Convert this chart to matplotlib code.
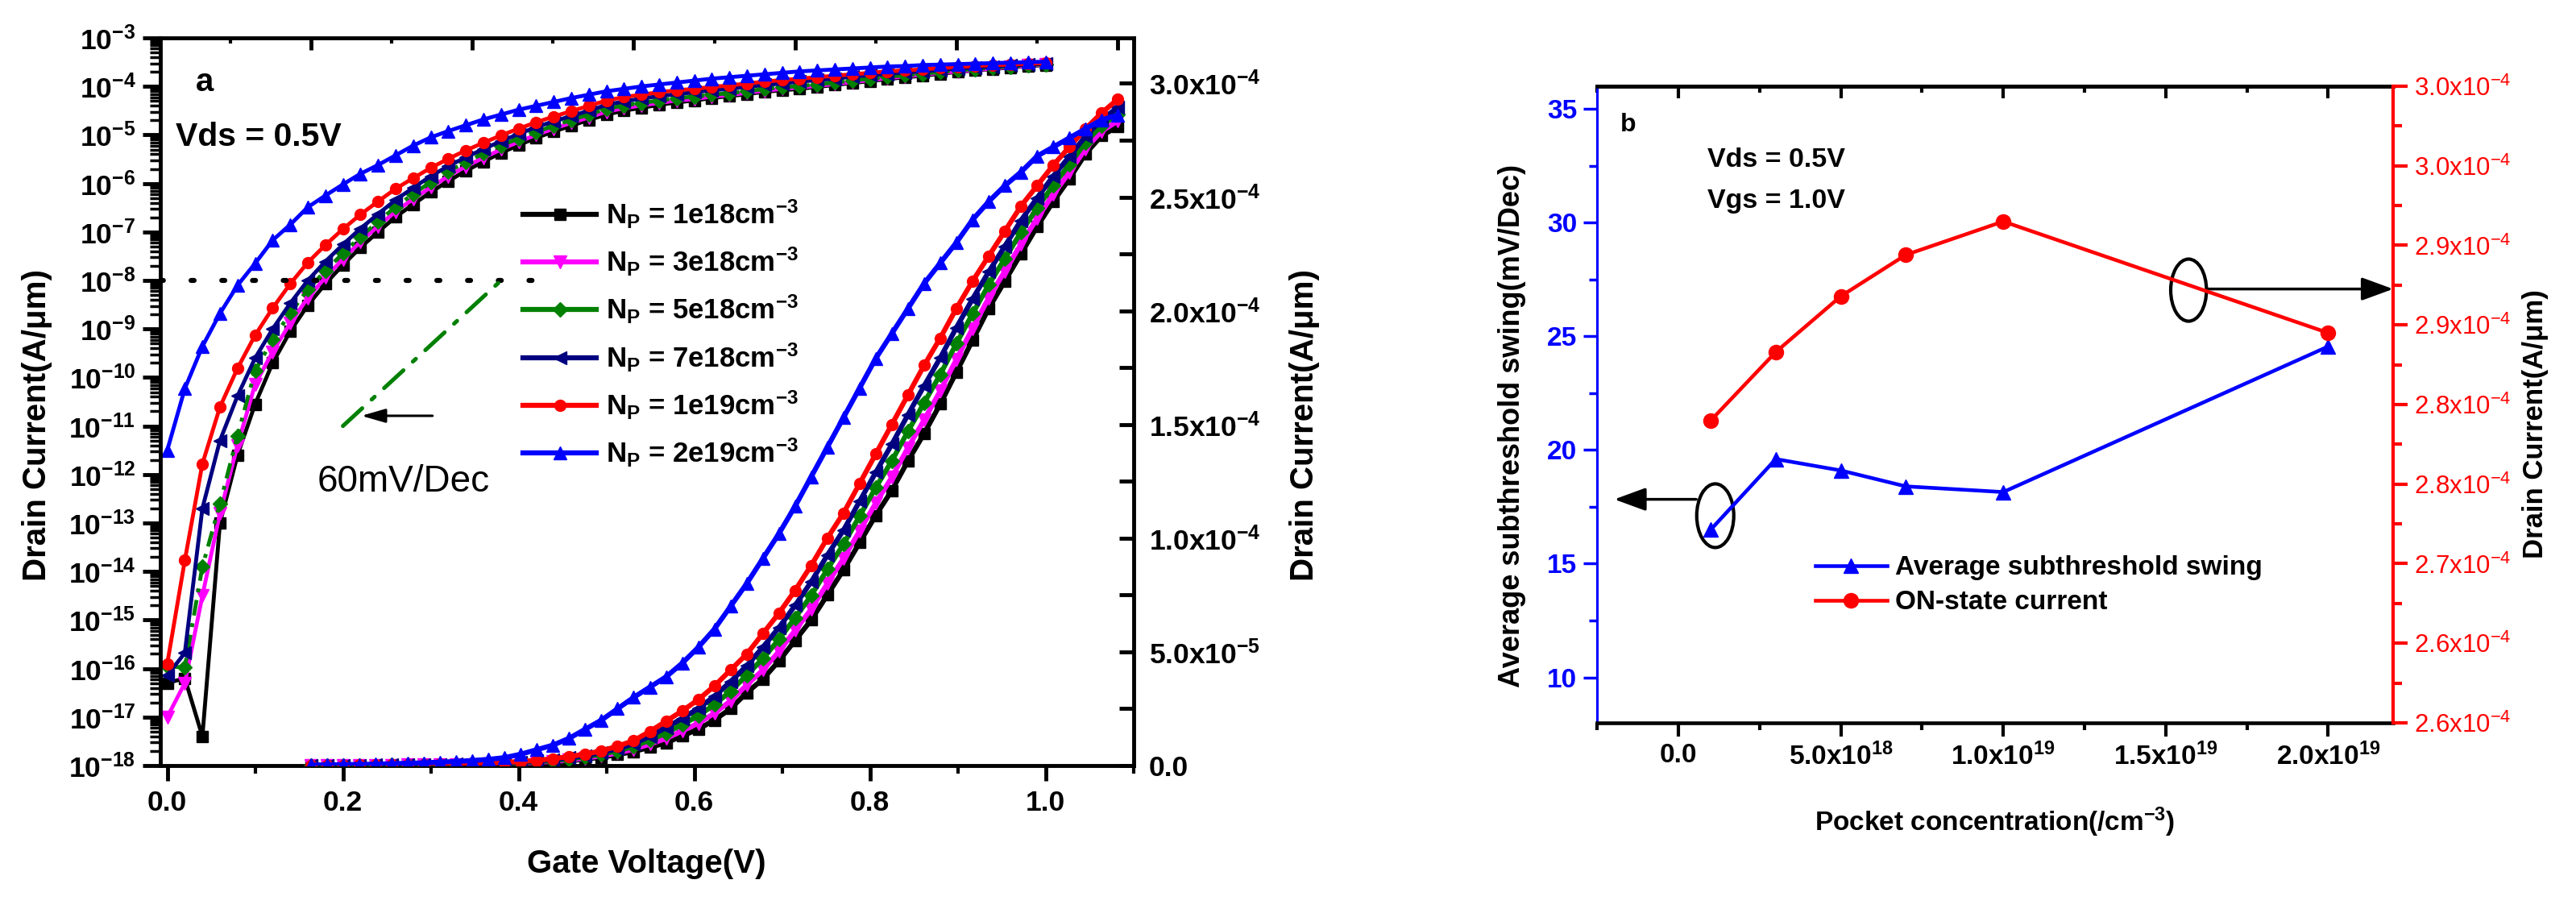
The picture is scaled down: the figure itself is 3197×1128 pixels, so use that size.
import numpy as np
import matplotlib
matplotlib.use('Agg')
import matplotlib.pyplot as plt
from matplotlib.patches import Ellipse
from matplotlib.ticker import (FixedLocator, MultipleLocator, LogLocator,
                               NullFormatter, FuncFormatter, FormatStrFormatter)

plt.rcParams.update({
    'font.family': ['Liberation Sans', 'DejaVu Sans'],
    'font.weight': 'bold',
    'axes.labelweight': 'bold',
    'mathtext.default': 'regular',
})

# ---------------- panel a data ----------------
# gate voltage sweep (0 .. 1.0 V, 20 mV step) -- markers every 0.02 V
vg = np.linspace(0.0, 1.0, 51)

# log10 of drain current (A/um), left (log) axis
logI_1e18 = [-16.30, -16.20, -17.40, -13.00, -11.60, -10.55, -9.70, -9.05, -8.51, -8.07,
             -7.68, -7.32, -7.00, -6.69, -6.43, -6.18, -5.95, -5.74, -5.55, -5.37,
             -5.21, -5.06, -4.93, -4.81, -4.69, -4.58, -4.50, -4.44, -4.38, -4.33,
             -4.29, -4.24, -4.20, -4.16, -4.11, -4.08, -4.05, -4.01, -3.97, -3.93,
             -3.89, -3.85, -3.81, -3.78, -3.74, -3.70, -3.67, -3.64, -3.61, -3.58, -3.56]
logI_3e18 = [-17.00, -16.30, -14.50, -12.80, -11.40, -10.14, -9.47, -8.88, -8.36, -7.94,
             -7.56, -7.20, -6.88, -6.58, -6.32, -6.08, -5.85, -5.65, -5.47, -5.30,
             -5.14, -5.00, -4.87, -4.75, -4.64, -4.52, -4.45, -4.39, -4.34, -4.29,
             -4.26, -4.21, -4.18, -4.13, -4.09, -4.05, -4.02, -3.99, -3.95, -3.91,
             -3.87, -3.83, -3.79, -3.76, -3.72, -3.69, -3.66, -3.63, -3.60, -3.57, -3.55]
logI_5e18 = [-15.95, -15.98, -13.90, -12.60, -11.20, -9.86, -9.22, -8.67, -8.19, -7.80,
             -7.44, -7.10, -6.79, -6.48, -6.22, -5.97, -5.75, -5.56, -5.38, -5.22,
             -5.07, -4.94, -4.81, -4.69, -4.58, -4.46, -4.39, -4.34, -4.29, -4.24,
             -4.21, -4.17, -4.14, -4.10, -4.05, -4.02, -3.99, -3.96, -3.92, -3.88,
             -3.84, -3.80, -3.77, -3.74, -3.70, -3.67, -3.64, -3.61, -3.59, -3.56, -3.54]
logI_7e18 = [-16.14, -15.68, -12.70, -11.30, -10.38, -9.60, -9.00, -8.47, -8.00, -7.61,
             -7.26, -6.93, -6.63, -6.34, -6.09, -5.85, -5.64, -5.46, -5.29, -5.13,
             -4.98, -4.84, -4.72, -4.61, -4.50, -4.38, -4.31, -4.25, -4.20, -4.16,
             -4.12, -4.08, -4.05, -4.01, -3.97, -3.94, -3.90, -3.87, -3.84, -3.80,
             -3.77, -3.74, -3.71, -3.69, -3.66, -3.63, -3.61, -3.59, -3.57, -3.55, -3.53]
logI_1e19 = [-15.90, -13.77, -11.78, -10.61, -9.81, -9.13, -8.57, -8.07, -7.63, -7.27,
             -6.94, -6.64, -6.37, -6.11, -5.89, -5.68, -5.49, -5.32, -5.16, -5.01,
             -4.87, -4.74, -4.62, -4.51, -4.40, -4.29, -4.22, -4.17, -4.12, -4.08,
             -4.05, -4.01, -3.98, -3.94, -3.90, -3.87, -3.84, -3.81, -3.78, -3.75,
             -3.72, -3.69, -3.67, -3.65, -3.62, -3.60, -3.58, -3.56, -3.55, -3.53, -3.52]
logI_2e19 = [-11.50, -10.23, -9.36, -8.68, -8.10, -7.65, -7.17, -6.85, -6.49, -6.25,
             -6.02, -5.80, -5.62, -5.42, -5.22, -5.05, -4.92, -4.80, -4.68, -4.58,
             -4.48, -4.40, -4.32, -4.24, -4.17, -4.10, -4.05, -4.00, -3.96, -3.92,
             -3.88, -3.84, -3.81, -3.78, -3.75, -3.72, -3.69, -3.67, -3.65, -3.63,
             -3.61, -3.59, -3.58, -3.56, -3.55, -3.54, -3.53, -3.52, -3.51, -3.50, -3.49]

# linear drain current (x1e-4 A/um), right axis (plotted on its own x layer)
lin_1e18 = [0.0005, 0.0006, 0.0008, 0.0010, 0.0012, 0.0015, 0.0018, 0.0022, 0.0027, 0.0033,
            0.004, 0.005, 0.007, 0.009, 0.012, 0.016, 0.021, 0.028, 0.037, 0.048,
            0.062, 0.080, 0.100, 0.130, 0.160, 0.200, 0.250, 0.320, 0.380, 0.460,
            0.550, 0.640, 0.750, 0.860, 0.980, 1.100, 1.210, 1.340, 1.460, 1.590,
            1.730, 1.870, 2.010, 2.130, 2.250, 2.370, 2.480, 2.580, 2.690, 2.770, 2.810]
lin_3e18 = [0.0006, 0.0007, 0.0009, 0.0011, 0.0014, 0.0017, 0.0021, 0.0026, 0.0031, 0.0038,
            0.005, 0.006, 0.008, 0.011, 0.014, 0.019, 0.025, 0.032, 0.043, 0.055,
            0.072, 0.094, 0.119, 0.152, 0.186, 0.230, 0.284, 0.354, 0.420, 0.502,
            0.594, 0.688, 0.800, 0.910, 1.032, 1.154, 1.268, 1.398, 1.520, 1.648,
            1.786, 1.922, 2.056, 2.174, 2.292, 2.406, 2.512, 2.608, 2.712, 2.790, 2.834]
lin_5e18 = [0.0007, 0.0008, 0.0010, 0.0013, 0.0016, 0.0020, 0.0024, 0.0030, 0.0036, 0.0044,
            0.006, 0.008, 0.010, 0.013, 0.017, 0.022, 0.030, 0.038, 0.050, 0.065,
            0.084, 0.112, 0.143, 0.180, 0.219, 0.268, 0.327, 0.397, 0.470, 0.555,
            0.649, 0.748, 0.863, 0.973, 1.097, 1.222, 1.340, 1.470, 1.595, 1.720,
            1.856, 1.987, 2.114, 2.229, 2.345, 2.451, 2.552, 2.643, 2.740, 2.815, 2.864]
lin_7e18 = [0.0008, 0.0009, 0.0012, 0.0015, 0.0019, 0.0024, 0.0030, 0.0037, 0.0045, 0.0055,
            0.0075, 0.009, 0.012, 0.015, 0.020, 0.026, 0.034, 0.043, 0.057, 0.074,
            0.096, 0.129, 0.167, 0.207, 0.251, 0.305, 0.369, 0.439, 0.520, 0.607,
            0.704, 0.808, 0.925, 1.035, 1.162, 1.289, 1.413, 1.543, 1.670, 1.793,
            1.926, 2.052, 2.171, 2.284, 2.397, 2.496, 2.592, 2.678, 2.767, 2.840, 2.894]
lin_1e19 = [0.0010, 0.0010, 0.0015, 0.0020, 0.0025, 0.0030, 0.0040, 0.0050, 0.0060, 0.0070,
            0.009, 0.011, 0.014, 0.018, 0.023, 0.030, 0.040, 0.050, 0.065, 0.085,
            0.110, 0.150, 0.195, 0.240, 0.290, 0.350, 0.420, 0.490, 0.580, 0.670,
            0.770, 0.880, 1.000, 1.110, 1.240, 1.370, 1.500, 1.630, 1.760, 1.880,
            2.010, 2.130, 2.240, 2.350, 2.460, 2.550, 2.640, 2.720, 2.800, 2.870, 2.930]
lin_2e19 = [0.002, 0.003, 0.004, 0.005, 0.006, 0.008, 0.010, 0.012, 0.015, 0.018,
            0.022, 0.027, 0.035, 0.050, 0.070, 0.090, 0.120, 0.160, 0.200, 0.250,
            0.300, 0.345, 0.390, 0.450, 0.520, 0.600, 0.700, 0.800, 0.910, 1.020,
            1.140, 1.270, 1.400, 1.530, 1.660, 1.790, 1.900, 2.010, 2.120, 2.210,
            2.300, 2.400, 2.480, 2.550, 2.610, 2.680, 2.720, 2.760, 2.800, 2.840, 2.860]

series_labels = ['N$_{P}$ = 1e18cm$^{-3}$', 'N$_{P}$ = 3e18cm$^{-3}$',
                 'N$_{P}$ = 5e18cm$^{-3}$', 'N$_{P}$ = 7e18cm$^{-3}$',
                 'N$_{P}$ = 1e19cm$^{-3}$', 'N$_{P}$ = 2e19cm$^{-3}$']
log_series = [logI_1e18, logI_3e18, logI_5e18, logI_7e18, logI_1e19, logI_2e19]
lin_series = [lin_1e18, lin_3e18, lin_5e18, lin_7e18, lin_1e19, lin_2e19]
colors = ['#000000', '#ff00ff', '#008000', '#000080', '#ff0000', '#0000ff']
markers = ['s', 'v', 'D', '<', 'o', '^']
msizes = [10, 11, 9, 11, 10, 11]

# reference lines of panel a
ref_dot_x = [-0.008, 0.43]
ref_dot_y = [1e-8, 1e-8]
slope60_x = [0.20, 0.38]
slope60_y = [1e-11, 1e-8]

left_right_ticks = [0.0, 0.5e-4, 1.0e-4, 1.5e-4, 2.0e-4, 2.5e-4, 3.0e-4]
left_right_text = ['0.0', '5.0x10$^{-5}$', '1.0x10$^{-4}$', '1.5x10$^{-4}$',
                   '2.0x10$^{-4}$', '2.5x10$^{-4}$', '3.0x10$^{-4}$']

# ---------------- panel b data ----------------
pocket_conc = [1e18, 3e18, 5e18, 7e18, 1e19, 2e19]
avg_ss = [16.5, 19.6, 19.1, 18.4, 18.15, 24.55]
on_current = [2.790e-4, 2.833e-4, 2.868e-4, 2.894e-4, 2.915e-4, 2.845e-4]

conc_ticks = [0.0, 5e18, 1e19, 1.5e19, 2e19]
conc_text = ['0.0', '5.0x10$^{18}$', '1.0x10$^{19}$', '1.5x10$^{19}$', '2.0x10$^{19}$']
ion_ticks = [2.60e-4, 2.65e-4, 2.70e-4, 2.75e-4, 2.80e-4, 2.85e-4, 2.90e-4, 2.95e-4, 3.00e-4]
ion_text = ['2.6x10$^{-4}$', '2.6x10$^{-4}$', '2.7x10$^{-4}$', '2.8x10$^{-4}$',
            '2.8x10$^{-4}$', '2.9x10$^{-4}$', '2.9x10$^{-4}$', '3.0x10$^{-4}$',
            '3.0x10$^{-4}$']

fig = plt.figure(figsize=(31.97, 11.28), dpi=100)

# ================= panel a =================
rect_a = [0.0622, 0.1578, 0.3778, 0.8005]
ax1 = fig.add_axes(rect_a, label='log')
ax2 = fig.add_axes(rect_a, label='lin', facecolor='none')

for i in range(6):
    ls = (0, (4, 2, 1, 2)) if i == 2 else '-'
    ax1.plot(vg, 10.0 ** np.array(log_series[i]), color=colors[i], marker=markers[i],
             ms=msizes[i], lw=3.5, ls=ls, mec=colors[i])

handles = []
for i in range(6):
    h, = ax2.plot(vg, np.array(lin_series[i]) * 1e-4, color=colors[i], marker=markers[i],
                  ms=msizes[i], lw=4.5, mec=colors[i])
    handles.append(h)

ax1.plot(ref_dot_x, ref_dot_y, color='k', lw=4.5, ls=(0, (0.6, 5.5)),
         dash_capstyle='round')
ax1.plot(slope60_x, slope60_y, color='#008000', lw=3.6, ls=(0, (6.5, 3.2, 1.0, 3.2)),
         dash_capstyle='round')
ax1.annotate('', xy=(0.221, 10 ** -10.79), xytext=(0.302, 10 ** -10.79),
             arrowprops=dict(arrowstyle='-|>,head_length=0.45,head_width=0.13',
                             color='k', lw=2.2, mutation_scale=40,
                             shrinkA=0, shrinkB=0))
ax1.text(0.269, 10 ** -12.15, '60mV/Dec', fontsize=33, fontweight='normal',
         ha='center', va='center')
ax1.text(0.032, 10 ** -3.91, 'a', fontsize=29, ha='left', va='center')
ax1.text(0.0095, 10 ** -5.04, 'Vds = 0.5V', fontsize=29.5, ha='left', va='center')

ax1.set_yscale('log')
ax1.set_xlim(-0.008, 1.10)
ax1.set_ylim(1e-18, 1e-3)
ax1.yaxis.set_major_locator(FixedLocator(10.0 ** np.arange(-18, -2)))
ax1.yaxis.set_major_formatter(FuncFormatter(lambda v, p: '10$^{%d}$' % round(np.log10(v))))
ax1.yaxis.set_minor_locator(LogLocator(base=10, subs=np.arange(2, 10), numticks=200))
ax1.yaxis.set_minor_formatter(NullFormatter())
ax1.xaxis.set_major_locator(MultipleLocator(0.2))
ax1.xaxis.set_minor_locator(MultipleLocator(0.1))
ax1.xaxis.set_major_formatter(FormatStrFormatter('%.1f'))
ax1.tick_params(axis='both', which='both', direction='out', top=False, right=False)
ax1.tick_params(axis='y', which='major', length=16, width=3.5, labelsize=25.5, pad=6)
ax1.tick_params(axis='y', which='minor', length=9.5, width=2.5)
ax1.tick_params(axis='x', which='major', length=13.5, width=3.5, labelsize=25.5, pad=8)
ax1.tick_params(axis='x', which='minor', length=7, width=3)
for s in ['top', 'right']:
    ax1.spines[s].set_visible(False)
for s in ['left', 'bottom']:
    ax1.spines[s].set_linewidth(3.5)

ax2.set_xlim(-0.187, 1.0195)
ax2.set_ylim(0, 3.2e-4)
ax2.xaxis.set_ticks_position('top')
ax2.xaxis.set_major_locator(MultipleLocator(0.2))
ax2.xaxis.set_minor_locator(MultipleLocator(0.1))
ax2.tick_params(axis='x', which='both', direction='in', labeltop=False, labelbottom=False)
ax2.tick_params(axis='x', which='major', length=11, width=3.5)
ax2.tick_params(axis='x', which='minor', length=5, width=3)
ax2.yaxis.set_ticks_position('right')
ax2.yaxis.set_label_position('right')
ax2.set_yticks(left_right_ticks, left_right_text)
ax2.yaxis.set_minor_locator(MultipleLocator(0.25e-4))
ax2.tick_params(axis='y', which='both', direction='in', length=13, width=3.5,
                labelsize=25.5, pad=14)
for s in ['left', 'bottom']:
    ax2.spines[s].set_visible(False)
for s in ['top', 'right']:
    ax2.spines[s].set_linewidth(3.5)

ax1.set_xlabel('Gate Voltage(V)', fontsize=29)
ax1.xaxis.label.set_va('center')
ax1.xaxis.set_label_coords(0.5, -0.135)
ax1.set_ylabel('Drain Current(A/\u03bcm)', fontsize=29)
ax1.yaxis.label.set_va('center')
ax1.yaxis.set_label_coords(-0.1267, 0.468)
ax2.set_ylabel('Drain Current(A/\u03bcm)', fontsize=29)
ax2.yaxis.label.set_va('center')
ax2.yaxis.set_label_coords(1.176, 0.468)

ax2.legend(handles, series_labels, loc='upper left', bbox_to_anchor=(0.373, 0.78),
           frameon=False, fontsize=25, handlelength=2.6, handletextpad=0.35,
           labelspacing=0.55, borderpad=0, borderaxespad=0, numpoints=1)

# ================= panel b =================
rect_b = [0.6200, 0.2048, 0.3090, 0.7004]
ax3 = fig.add_axes(rect_b)
ax4 = ax3.twinx()

l1, = ax3.plot(pocket_conc, avg_ss, color='#0000ff', marker='^', ms=13, lw=3.3)
l2, = ax4.plot(pocket_conc, on_current, color='#ff0000', marker='o', ms=13, lw=3.3)

ax3.set_xlim(-2.5e18, 2.2e19)
ax3.set_ylim(8, 36)
ax4.set_ylim(2.6e-4, 3.0e-4)

ax3.set_xticks(conc_ticks, conc_text)
ax3.xaxis.set_minor_locator(MultipleLocator(2.5e18))
ax3.tick_params(axis='x', which='both', direction='out', labelsize=24, pad=6)
ax3.tick_params(axis='x', which='major', length=12, width=3)
ax3.tick_params(axis='x', which='minor', length=6.5, width=3)
top = ax3.secondary_xaxis('top')
top.set_xticks(conc_ticks)
top.xaxis.set_minor_locator(MultipleLocator(2.5e18))
top.tick_params(axis='x', which='both', direction='in', labeltop=False)
top.tick_params(axis='x', which='major', length=11, width=3)
top.tick_params(axis='x', which='minor', length=5.5, width=3)
top.spines['top'].set_linewidth(3.3)

ax3.yaxis.set_major_locator(MultipleLocator(5))
ax3.yaxis.set_minor_locator(MultipleLocator(2.5))
ax3.tick_params(axis='y', which='both', direction='out', colors='#0000ff',
                labelsize=24, pad=6, width=2.5)
ax3.tick_params(axis='y', which='major', length=12)
ax3.tick_params(axis='y', which='minor', length=7)
ax3.spines['left'].set_color('#0000ff')
ax3.spines['left'].set_linewidth(2.2)
ax3.spines['bottom'].set_linewidth(3.3)
ax3.spines['top'].set_linewidth(3.3)
ax3.spines['right'].set_visible(False)

ax4.set_yticks(ion_ticks, ion_text, fontweight='normal', fontsize=22.5)
ax4.yaxis.set_minor_locator(MultipleLocator(0.025e-4))
ax4.tick_params(axis='y', which='both', direction='out', colors='#ff0000', width=3, pad=6)
ax4.tick_params(axis='y', which='major', length=13)
ax4.tick_params(axis='y', which='minor', length=8)
ax4.spines['right'].set_color('#ff0000')
ax4.spines['right'].set_linewidth(3)
for s in ['left', 'top', 'bottom']:
    ax4.spines[s].set_visible(False)

# markers of which axis each curve belongs to
ax3.add_patch(Ellipse((1.136e18, 17.11), 1.14e18, 2.8, fill=False, lw=3, ec='k'))
ax3.add_patch(Ellipse((1.5705e19, 27.03), 1.1e18, 2.73, fill=False, lw=3, ec='k'))
ax3.annotate('', xy=(-1.97e18, 17.83), xytext=(0.55e18, 17.83), annotation_clip=False,
             arrowprops=dict(arrowstyle='-|>,head_length=0.6,head_width=0.22',
                             color='k', lw=2.5, mutation_scale=40, shrinkA=0, shrinkB=0))
ax3.annotate('', xy=(2.2e19, 27.08), xytext=(1.63e19, 27.08), annotation_clip=False,
             arrowprops=dict(arrowstyle='-|>,head_length=0.6,head_width=0.22',
                             color='k', lw=2.5, mutation_scale=40, shrinkA=0, shrinkB=0))

ax3.text(-1.79e18, 34.3, 'b', fontsize=23, ha='left', va='center')
ax3.text(0.9e18, 32.77, 'Vds = 0.5V', fontsize=24.5, ha='left', va='center')
ax3.text(0.9e18, 30.94, 'Vgs = 1.0V', fontsize=24.5, ha='left', va='center')

ax3.set_xlabel('Pocket concentration(/cm$^{-3}$)', fontsize=24)
ax3.xaxis.label.set_va('center')
ax3.xaxis.set_label_coords(0.5, -0.156)
ax3.set_ylabel('Average subthreshold swing(mV/Dec)', fontsize=26)
ax3.yaxis.label.set_va('center')
ax3.yaxis.set_label_coords(-0.107, 0.467)
ax4.set_ylabel('Drain Current(A/\u03bcm)', fontsize=25)
ax4.yaxis.label.set_va('center')
ax4.yaxis.set_label_coords(1.179, 0.47)

ax4.legend([l1, l2], ['Average subthreshold swing', 'ON-state current'],
           loc='upper left', bbox_to_anchor=(0.274, 0.263), frameon=False,
           fontsize=24, handlelength=2.67, handletextpad=0.3, labelspacing=0.36,
           borderpad=0, borderaxespad=0, numpoints=1)

fig.savefig('out.png', dpi=100)
